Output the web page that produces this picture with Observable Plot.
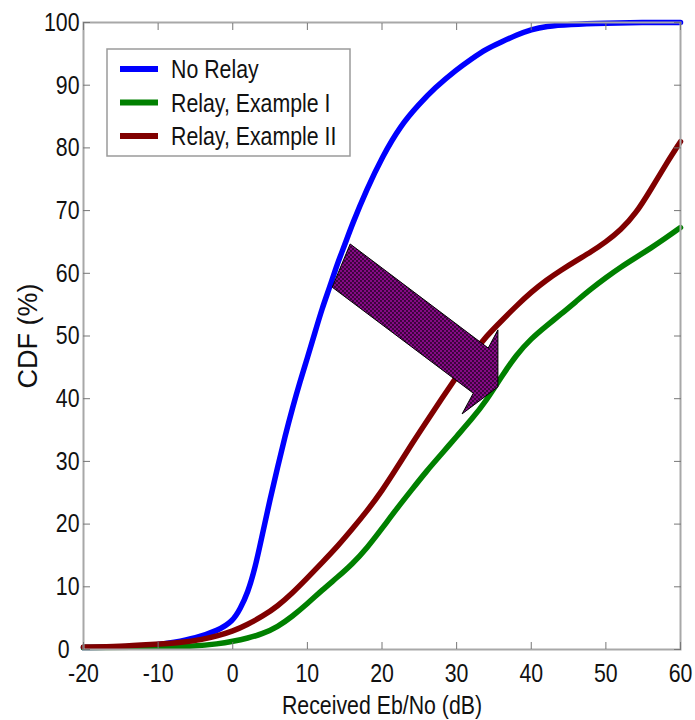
<!DOCTYPE html>
<html><head><meta charset="utf-8">
<script src="https://cdn.jsdelivr.net/npm/d3@7"></script>
<script src="https://cdn.jsdelivr.net/npm/@observablehq/plot@0.6"></script>
<style>
body{margin:0;background:#fff}
#chart svg{font-family:"Liberation Sans",Arial,sans-serif;}
</style>
</head><body><div id="chart"></div>
<script>
// ---- data ----
const xTicks = [-20, -10, 0, 10, 20, 30, 40, 50, 60];
const yTicks = [0, 10, 20, 30, 40, 50, 60, 70, 80, 90, 100];
const seriesNames = ["No Relay", "Relay, Example I", "Relay, Example II"];
const seriesColors = ["#0000ff", "#008000", "#800000"];

const noRelayX = [-20, -15, -10, -8, -5, -2, 0, 1, 2, 3, 4, 5, 6, 7, 8, 9, 10, 11, 12, 13, 14, 15, 16, 18, 20, 22.5, 25, 27, 30, 32, 34, 36, 38, 40, 42, 45, 50, 55, 60];
const noRelayY = [0.3, 0.4, 0.7, 1.1, 1.8, 3.0, 4.5, 6.5, 9, 13, 18.5, 24, 29, 34, 38.5, 42.7, 46.5, 50.5, 54.5, 57.8, 61.5, 64.5, 67.8, 73.5, 78.5, 83.6, 87, 89.5, 92.5, 94.2, 95.8, 96.9, 98, 98.9, 99.4, 99.7, 99.9, 100, 100];

const relay1X = [-20, -10, -5, -2, 0, 2, 4, 6, 8, 10, 12, 14, 16, 18, 20, 22, 24, 26, 28, 30, 32, 34, 36, 38, 40, 42, 44, 46, 48, 50, 52, 54, 56, 58, 60];
const relay1Y = [0.3, 0.4, 0.5, 0.9, 1.3, 1.8, 2.5, 3.6, 5.3, 7.3, 9.5, 11.5, 13.6, 16.2, 19.3, 22.5, 25.5, 28.5, 31.2, 34, 36.7, 39.7, 43.5, 47, 49.6, 51.6, 53.5, 55.5, 57.5, 59.3, 61, 62.5, 64, 65.6, 67.3];

const relay2X = [-20, -15, -11, -7, -4, -2, 0, 2, 4, 6, 8, 10, 12, 14, 16, 18, 20, 22, 24, 26, 28, 30, 32, 34, 36, 38, 40, 42, 44, 46, 48, 50, 52, 54, 56, 58, 60];
const relay2Y = [0.4, 0.5, 0.8, 1.1, 1.6, 2.2, 2.9, 4.0, 5.3, 6.9, 9.0, 11.4, 13.9, 16.4, 19.2, 22.1, 25.3, 29, 32.8, 36.4, 40, 43.5, 47, 50, 52.4, 54.8, 57, 58.9, 60.5, 62, 63.4, 65, 66.9, 69.5, 73.3, 77.3, 81];

// annotation arrow outline (data units)
const arrowX = [15.8, 34.3, 35.6, 35.6, 30.8, 32.3, 13.4];
const arrowY = [64.6, 48.0, 50.9, 41.8, 37.5, 40.8, 57.7];

const xLabel = "Received Eb/No (dB)";
const yLabel = "CDF (%)";

// ---- build tables ----
const rows = [];
[[noRelayX, noRelayY], [relay1X, relay1Y], [relay2X, relay2Y]].forEach(([xs, ys], i) => {
  xs.forEach((x, j) => rows.push({series: seriesNames[i], x, y: ys[j]}));
});
const arrowPts = arrowX.map((x, i) => ({x, y: arrowY[i]}));

function arrowMark(index, scales) {
  const g = d3.create("svg:g");
  const defs = g.append("defs");
  const p = defs.append("pattern").attr("id", "dots").attr("patternUnits", "userSpaceOnUse")
    .attr("width", 4).attr("height", 4);
  p.append("rect").attr("width", 4).attr("height", 4).attr("fill", "#850a85");
  p.append("circle").attr("cx", 1).attr("cy", 1).attr("r", 0.9).attr("fill", "#1a001a");
  p.append("circle").attr("cx", 3).attr("cy", 3).attr("r", 0.9).attr("fill", "#1a001a");
  const pts = arrowPts.map(d => [scales.x(d.x), scales.y(d.y)]);
  g.append("polygon").attr("points", pts.map(q => q.join(",")).join(" "))
    .attr("fill", "url(#dots)").attr("stroke", "#000").attr("stroke-width", 1);
  return g.node();
}

function legendMark() {
  const g = d3.create("svg:g");
  g.append("rect").attr("x", 107).attr("y", 49).attr("width", 243).attr("height", 107)
    .attr("fill", "#fff").attr("stroke", "#9a9a9a").attr("stroke-width", 1.5);
  seriesNames.forEach((name, i) => {
    const y = 69 + i * 33.5;
    g.append("line").attr("x1", 120).attr("x2", 158).attr("y1", y).attr("y2", y)
      .attr("stroke", seriesColors[i]).attr("stroke-width", 6);
    g.append("text").attr("transform", `translate(171,${y})`).attr("dy", "0.36em")
      .attr("text-anchor", "start").attr("font-size", 26).attr("fill", "#111").text(name);
  });
  return g.node();
}

const fmt = d => String(d);

const chart = Plot.plot({
  width: 695,
  height: 720,
  marginLeft: 83,
  marginRight: 15,
  marginTop: 22,
  marginBottom: 71,
  style: {fontSize: "26px", background: "#fff", color: "#111"},
  x: {domain: [-20, 60]},
  y: {domain: [0, 100]},
  color: {domain: seriesNames, range: seriesColors},
  marks: [
    Plot.line(rows, {x: "x", y: "y", z: "series", stroke: "series", strokeWidth: 5.5, curve: "basis"}),
    arrowMark,
    Plot.frame({stroke: "#a8a8a8", strokeWidth: 2}),
    Plot.axisX({anchor: "bottom", ticks: xTicks, tickFormat: fmt, tickSize: -7, tickPadding: 21, stroke: "#777", label: null, fontSize: 26}),
    Plot.axisX({anchor: "top", ticks: xTicks, tickSize: -7, tickFormat: () => "", stroke: "#777", label: null}),
    Plot.axisY({anchor: "left", ticks: yTicks, tickFormat: fmt, tickSize: -7, tickPadding: 11, stroke: "#777", label: null, fontSize: 26}),
    Plot.axisY({anchor: "right", ticks: yTicks, tickSize: -7, tickFormat: () => "", stroke: "#777", label: null}),
    Plot.text([xLabel], {frameAnchor: "bottom", dy: 56, lineAnchor: "middle", textAnchor: "middle", fontSize: 26, fill: "#111"}),
    Plot.text([yLabel], {frameAnchor: "left", dx: -55, rotate: -90, textAnchor: "middle", lineAnchor: "middle", fontSize: 27, fill: "#111"}),
    legendMark
  ]
});
// condense horizontal texts (the reference uses a narrow face)
d3.select(chart).selectAll("text").each(function() {
  const t = d3.select(this);
  if (t.text() === yLabel) return;
  const tr = t.attr("transform");
  if (!tr) return;
  const parentLabel = this.parentNode && this.parentNode.getAttribute("aria-label");
  // the reference sets its "0" y label a little further left, clear of "-20"
  const shift = (parentLabel === "y-axis tick label" && t.text() === "0") ? " translate(-10,0)" : "";
  t.attr("transform", tr + shift + " scale(0.82,1)");
});
document.getElementById("chart").appendChild(chart);
</script>
</body></html>
